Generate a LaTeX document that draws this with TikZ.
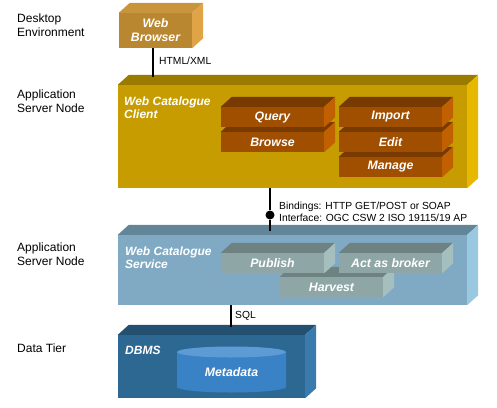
\documentclass[tikz,border=0pt]{standalone}
\usepackage{fontspec}
\setmainfont{Liberation Sans}
\usetikzlibrary{calc}

\definecolor{browserfront}{RGB}{185,135,48}
\definecolor{browsertop}{RGB}{200,148,60}
\definecolor{browserside}{RGB}{224,164,70}
\definecolor{clientfront}{RGB}{198,156,0}
\definecolor{clienttop}{RGB}{155,122,0}
\definecolor{clientside}{RGB}{230,185,0}
\definecolor{opfront}{RGB}{160,78,0}
\definecolor{optop}{RGB}{120,58,0}
\definecolor{opside}{RGB}{192,96,0}
\definecolor{servfront}{RGB}{128,170,196}
\definecolor{servtop}{RGB}{98,134,152}
\definecolor{servside}{RGB}{155,200,225}
\definecolor{taskfront}{RGB}{143,166,166}
\definecolor{tasktop}{RGB}{110,130,130}
\definecolor{taskside}{RGB}{165,190,190}
\definecolor{dbfront}{RGB}{45,104,146}
\definecolor{dbtop}{RGB}{35,80,112}
\definecolor{dbside}{RGB}{58,122,172}
\definecolor{cylbody}{RGB}{58,130,198}
\definecolor{cyltop}{RGB}{92,155,212}

\tikzset{
  tier/.style={anchor=west,align=left,inner sep=0pt,font=\fontsize{12}{14}\selectfont},
  note/.style={anchor=west,align=left,inner sep=0pt,font=\fontsize{10.3}{12}\selectfont},
  front/.style={shape=rectangle,inner sep=0pt,fill=#1},
  boxtext/.style={text=white,align=center,inner sep=0pt,font=\bfseries\itshape\fontsize{12.3}{14}\selectfont},
  boxtitle/.style={boxtext,anchor=west,align=left,font=\bfseries\itshape\fontsize{12}{13}\selectfont},
  opbox/.style={front=opfront,boxtext,minimum width=103pt,minimum height=20pt},
  taskbox/.style={front=taskfront,boxtext,minimum width=103pt,minimum height=20pt},
  link/.style={draw=black,line width=1.6pt},
  ball/.style={shape=circle,fill=black,inner sep=0pt,minimum size=9pt}
}

% top and side faces of a box whose front face is a node
\newcommand{\boxsides}[3]{%
  \fill[#2] (#1.north west) -- ++(11,-10) -- ($(#1.north east)+(11,-10)$) -- (#1.north east) -- cycle;
  \fill[#3] (#1.north east) -- ++(11,-10) -- ($(#1.south east)+(11,-10)$) -- (#1.south east) -- cycle;}

\begin{document}
\begin{tikzpicture}[x=1pt,y=-1pt]
\useasboundingbox (0,0) rectangle (497,407);

\node[tier] (desktop) at (17,25) {Desktop\\Environment};
\node[tier] (appnode1) at (17,101.5) {Application\\Server Node};
\node[tier] (appnode2) at (17,254) {Application\\Server Node};
\node[tier] (datatier) at (17,348) {Data Tier};

% desktop
\node[front=browserfront,boxtext,minimum width=73pt,minimum height=35pt] (browser) at (155.5,30.5) {Web\\Browser};
\boxsides{browser}{browsertop}{browserside}

% client
\node[front=clientfront,minimum width=349pt,minimum height=103pt] (client) at (292.5,136.5) {};
\boxsides{client}{clienttop}{clientside}
\node[boxtitle] (clientlabel) at (124,107.5) {Web Catalogue\\Client};
\node[opbox] (browse) at (272.5,142) {Browse};
\boxsides{browse}{optop}{opside}
\node[opbox] (query) at (272.5,117) {Query};
\boxsides{query}{optop}{opside}
\node[opbox] (manage) at (390.5,167) {Manage};
\boxsides{manage}{optop}{opside}
\node[opbox] (edit) at (390.5,142) {Edit};
\boxsides{edit}{optop}{opside}
\node[opbox] (import) at (390.5,117) {Import};
\boxsides{import}{optop}{opside}

% service
\node[front=servfront,minimum width=349pt,minimum height=70pt] (service) at (292.5,270) {};
\boxsides{service}{servtop}{servside}
\node[boxtitle] (servicelabel) at (125,257.5) {Web Catalogue\\Service};
\node[taskbox] (harvest) at (331.5,287) {Harvest};
\boxsides{harvest}{tasktop}{taskside}
\node[taskbox] (publish) at (272.5,263) {Publish};
\boxsides{publish}{tasktop}{taskside}
\node[taskbox] (broker) at (390.5,263) {Act as broker};
\boxsides{broker}{tasktop}{taskside}

% data tier
\node[front=dbfront,minimum width=187pt,minimum height=63pt] (dbms) at (211.5,366.5) {};
\boxsides{dbms}{dbtop}{dbside}
\node[boxtitle] (dbmslabel) at (125,350) {DBMS};
\fill[cylbody] (177,352) -- (177,387) arc[start angle=180,end angle=0,x radius=54.5,y radius=5.5] -- (286,352) -- cycle;
\fill[cyltop] (231.5,352) ellipse [x radius=54.5,y radius=5.5];
\node[boxtext] (metadata) at (231.5,372) {Metadata};

% connectors
\coordinate (htmlend) at (153,77);
\coordinate (ifaceend) at (270,231);
\coordinate (sqlend) at (231,327);
\node[ball] (iface) at (270,215) {};
\path [link] (browser.south -| htmlend) edge (htmlend);
\path [link] (client.south -| iface) edge (iface);
\path [link,line width=2.6pt] (iface) edge (ifaceend);
\path [link] (service.south -| sqlend) edge (sqlend);

\node[note] (htmllabel) at (159,61) {HTML/XML};
\node[note] (bindings) at (279,212) {Bindings: HTTP GET/POST or SOAP\\Interface: OGC CSW 2 ISO 19115/19 AP};
\node[note] (sqllabel) at (235,316) {SQL};
\end{tikzpicture}
\end{document}
